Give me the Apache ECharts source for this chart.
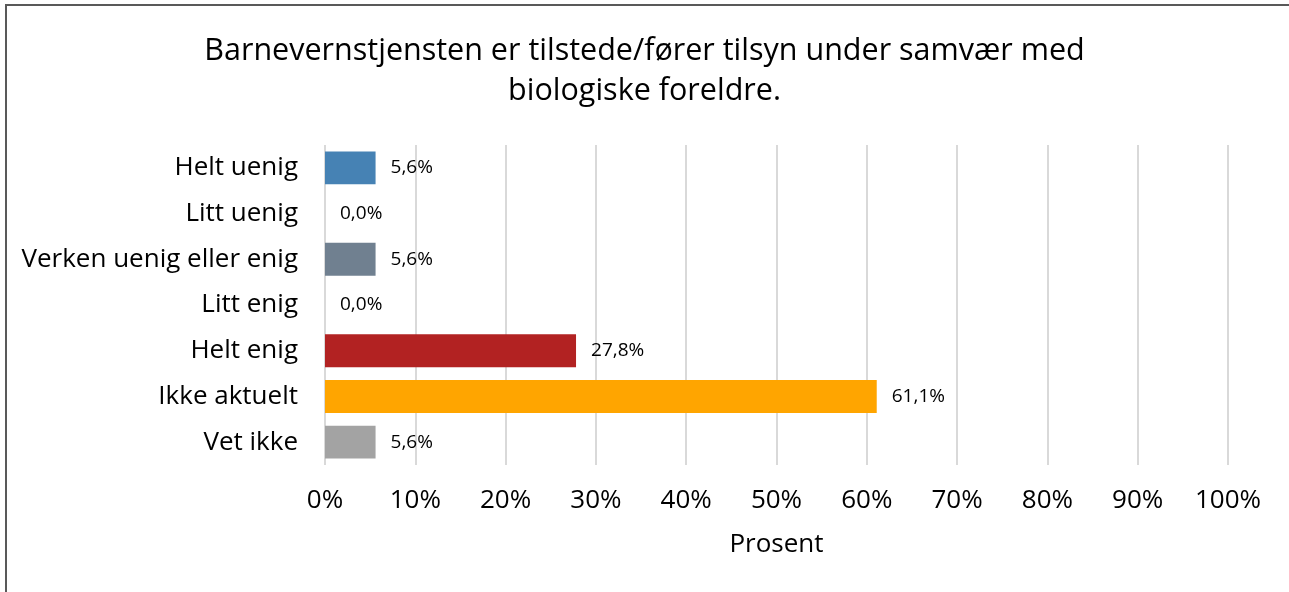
<!DOCTYPE html>
<html><head><meta charset="utf-8">
<script src="https://cdn.jsdelivr.net/npm/echarts@6/dist/echarts.min.js"></script>
<style>html,body{margin:0;padding:0;background:#fff}#c{width:1289px;height:592px}</style>
</head><body><div id="c"></div>
<script>
const categories = ["Helt uenig","Litt uenig","Verken uenig eller enig","Litt enig","Helt enig","Ikke aktuelt","Vet ikke"];
const values = [5.6, 0.0, 5.6, 0.0, 27.8, 61.1, 5.6];
const colors = ["#4682B4","#4682B4","#708090","#708090","#B22222","#FFA500","#A3A3A3"];
const xTicks = [0,10,20,30,40,50,60,70,80,90,100];
const titleText = "Barnevernstjensten er tilstede/fører tilsyn under samvær med\nbiologiske foreldre.";
const axisName = "Prosent";

const FONT = "Open Sans";
const chart = echarts.init(document.getElementById('c'), null, {renderer:'canvas'});
chart.setOption({
  animation:false,
  textStyle:{fontFamily:FONT},
  graphic:[{type:'rect',shape:{x:6,y:5,width:1300,height:600},style:{fill:'none',stroke:'#595959',lineWidth:2},silent:true}],
  title:{text:titleText,left:'center',top:26,textStyle:{fontFamily:FONT,fontSize:30.5,fontWeight:'normal',color:'#000',lineHeight:40}},
  grid:{left:325,right:61,top:145,bottom:127,containLabel:false},
  xAxis:{type:'value',min:xTicks[0],max:xTicks[xTicks.length-1],interval:10,
    axisLine:{show:false},axisTick:{show:false},
    splitLine:{show:true,lineStyle:{color:'#D9D9D9',width:2}},
    axisLabel:{formatter:v=>v+'%',fontSize:26,color:'#000',margin:23,fontFamily:FONT},
    name:axisName,nameLocation:'middle',nameGap:67,nameTextStyle:{fontSize:26,color:'#000',fontFamily:FONT}},
  yAxis:{type:'category',data:categories,inverse:true,
    axisLine:{show:false},axisTick:{show:false},
    axisLabel:{fontSize:26,color:'#000',margin:27,fontFamily:FONT}},
  series:[{type:'bar',barCategoryGap:'28%',
    data:values.map((v,i)=>({value:v,itemStyle:{color:colors[i]}})),
    label:{show:true,position:'right',distance:15,fontSize:19,color:'#000',fontFamily:FONT,
      formatter:p=>p.value.toFixed(1).replace('.',',')+'%'}}]
});
</script></body></html>
